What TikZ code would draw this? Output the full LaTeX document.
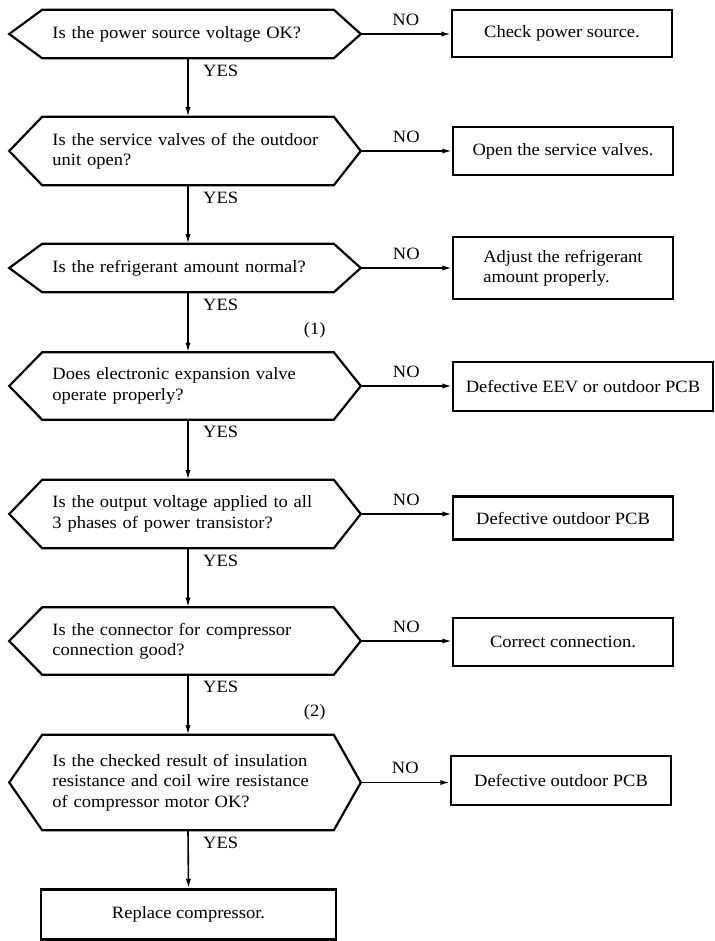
\documentclass[tikz,border=0pt]{standalone}
\usepackage{fontspec}
\setmainfont{Liberation Serif}[FakeStretch=1.07]
\usetikzlibrary{calc,arrows.meta}
\tikzset{
  query/.style={minimum width=72.75mm,minimum height=#1,text width=67.75mm,inner xsep=2.5mm,align=left},
  answer/.style={draw,line width=0.55mm,minimum width=55mm,minimum height=#1,align=left},
  yes/.style={anchor=north west,inner sep=0pt,xshift=3.6mm,yshift=-1.4mm},
  no/.style={above,inner sep=0pt,yshift=2mm},
  mark1/.style={anchor=south east,inner sep=0pt},
}
\begin{document}
\begin{tikzpicture}[x=0.25mm,y=-0.25mm,font=\fontsize{12.3}{14.5}\selectfont,>={Latex[length=2.4mm,width=1.3mm]}]
\useasboundingbox (0,0) rectangle (715,941);
% questions
\node[query=12mm] (q1) at (188,34) {Is the power source voltage OK?};
\node[query=17mm] (q2) at (188,151) {Is the service valves of the outdoor\\unit open?};
\node[query=12mm] (q3) at (188,268) {Is the refrigerant amount normal?};
\node[query=16.75mm] (q4) at (188,386) {Does electronic expansion valve\\operate properly?};
\node[query=17mm] (q5) at (188,514) {Is the output voltage applied to all\\3 phases of power transistor?};
\node[query=16.75mm] (q6) at (188,641) {Is the connector for compressor\\connection good?};
\node[query=23.75mm] (q7) at (188,782.5) {Is the checked result of insulation\\resistance and coil wire resistance\\of compressor motor OK?};
\foreach \q in {q1,q2,q3,q4,q5,q6,q7}{
  \coordinate (\q-l) at ($(\q.west)+(-33,0)$);
  \coordinate (\q-r) at ($(\q.east)+(27,0)$);
  \draw[line width=0.55mm] (\q.north west)--(\q.north east)--(\q-r)--(\q.south east)--(\q.south west)--(\q-l)--cycle;
}
% answers
\node[answer=11.75mm] (a1) at (562,33.5) {Check power source.};
\node[answer=12mm] (a2) at (563,151) {Open the service valves.};
\node[answer=15.5mm] (a3) at (563,268) {Adjust the refrigerant\\amount properly.};
\node[answer=12.25mm,minimum width=65mm] (a4) at (583,386.5) {Defective EEV or outdoor PCB};
\node[answer=10.75mm] (a5) at (563,518) {Defective outdoor PCB};
\node[answer=12mm] (a6) at (563,642) {Correct connection.};
\node[answer=12.25mm] (a7) at (561,780.5) {Defective outdoor PCB};
\node[answer=12.5mm,minimum width=73.75mm] (rep) at (188.5,914.5) {Replace compressor.};
\node[mark1] (m1) at ($(q4.north east)+(-8,-14)$) {(1)};
\node[mark1] (m2) at ($(q7.north east)+(-8,-14)$) {(2)};
% connectors
\foreach \i/\j in {1/2,2/3,3/4,4/5,5/6,6/7}
  \draw[->,line width=0.4mm] (q\i.south) node[yes]{YES} -- (q\j.north);
\draw[->,line width=0.4mm] (q7.south) node[yes]{YES} -- (rep.north);
\foreach \i in {1,...,7}
  \draw[->,line width=0.4mm] (q\i-r) -- node[no]{NO} (q\i-r -| a\i.west);
\end{tikzpicture}
\end{document}
